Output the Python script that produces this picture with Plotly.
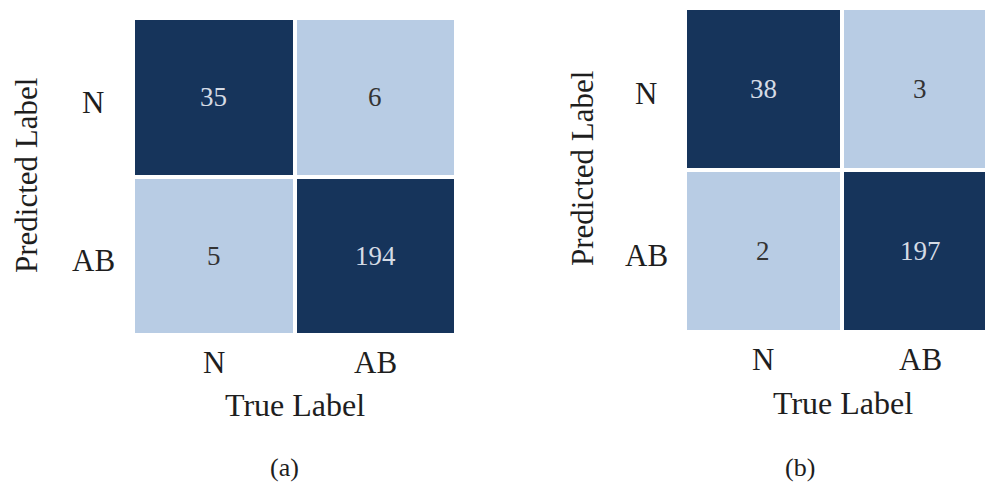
import plotly.graph_objects as go

# Confusion matrices (rows: predicted label, columns: true label)
labels = ["N", "AB"]
cm_a = [[35, 6], [5, 194]]
cm_b = [[38, 3], [2, 197]]
panel_tags = ["(a)", "(b)"]

DARK = "#16345b"
LIGHT = "#b8cce4"
TEXT_ON_DARK = "#d5dbe5"
TEXT_ON_LIGHT = "#333333"
INK = "#1e1e1e"
FONT = "Liberation Serif"
ZMAX = 200
SPLIT = 0.1  # fraction of ZMAX separating light cells from dark ones

W, H = 985, 485


def px_x(p):
    return p / W


def px_y(p):
    return 1 - p / H


colorscale = [[0, LIGHT], [SPLIT, LIGHT], [SPLIT, DARK], [1, DARK]]

fig = go.Figure()

panels = [
    dict(cm=cm_a, xa="x", ya="y", xdom=[133, 456], ydom=[335, 18], xrange=[-0.5, 1.5],
         ytick_x=93, ytitle_x=26, ytitle_y=176, xtick_y=362, xtitle=(295, 405), tag=(284, 467)),
    dict(cm=cm_b, xa="x2", ya="y2", xdom=[685, 985], ydom=[332, 8], xrange=[-0.5, 1.411],
         ytick_x=646, ytitle_x=582, ytitle_y=169, xtick_y=359, xtitle=(843, 403), tag=(800, 467)),
]

annotations = []
for i, p in enumerate(panels):
    cm = p["cm"]
    fig.add_trace(go.Heatmap(
        z=cm, x=[0, 1], y=[0, 1],
        xaxis=p["xa"], yaxis=p["ya"],
        colorscale=colorscale, zmin=0, zmax=ZMAX,
        showscale=False, xgap=4, ygap=4, hoverinfo="skip",
    ))
    suffix = "" if i == 0 else "2"
    # cell counts
    for r in range(2):
        for c in range(2):
            v = cm[r][c]
            annotations.append(dict(
                x=c, y=r, xref=p["xa"], yref=p["ya"], text=str(v), showarrow=False,
                font=dict(family=FONT, size=27,
                          color=TEXT_ON_DARK if v >= SPLIT * ZMAX else TEXT_ON_LIGHT),
            ))
    # tick labels
    for k, lab in enumerate(labels):
        annotations.append(dict(
            x=px_x(p["ytick_x"]), y=k + 0.03, xref="paper", yref=p["ya"], text=lab,
            showarrow=False, xanchor="center", yanchor="middle",
            font=dict(family=FONT, size=31, color=INK),
        ))
        annotations.append(dict(
            x=k, y=px_y(p["xtick_y"]), xref=p["xa"], yref="paper", text=lab,
            showarrow=False, xanchor="center", yanchor="middle",
            font=dict(family=FONT, size=31, color=INK),
        ))
    # axis titles
    annotations.append(dict(
        x=px_x(p["ytitle_x"]), y=px_y(p["ytitle_y"]), xref="paper", yref="paper",
        text="Predicted Label", textangle=-90, showarrow=False,
        xanchor="center", yanchor="middle",
        font=dict(family=FONT, size=31, color=INK),
    ))
    annotations.append(dict(
        x=px_x(p["xtitle"][0]), y=px_y(p["xtitle"][1]), xref="paper", yref="paper",
        text="True Label", showarrow=False, xanchor="center", yanchor="middle",
        font=dict(family=FONT, size=32, color=INK),
    ))
    annotations.append(dict(
        x=px_x(p["tag"][0]), y=px_y(p["tag"][1]), xref="paper", yref="paper",
        text=panel_tags[i], showarrow=False, xanchor="center", yanchor="middle",
        font=dict(family=FONT, size=26, color=INK),
    ))

    axis_common = dict(showgrid=False, zeroline=False, showticklabels=False,
                       ticks="", showline=False, fixedrange=True)
    fig.layout["xaxis" + suffix] = dict(
        domain=[px_x(p["xdom"][0]), px_x(p["xdom"][1])], range=p["xrange"],
        anchor="y" + suffix, **axis_common)
    fig.layout["yaxis" + suffix] = dict(
        domain=[px_y(p["ydom"][0]), px_y(p["ydom"][1])], range=[1.5, -0.5],
        anchor="x" + suffix, **axis_common)

fig.update_layout(
    width=W, height=H,
    margin=dict(l=0, r=0, t=0, b=0),
    paper_bgcolor="white", plot_bgcolor="white",
    annotations=annotations,
    showlegend=False,
)

fig.write_html("out.html", config={"displayModeBar": False})
